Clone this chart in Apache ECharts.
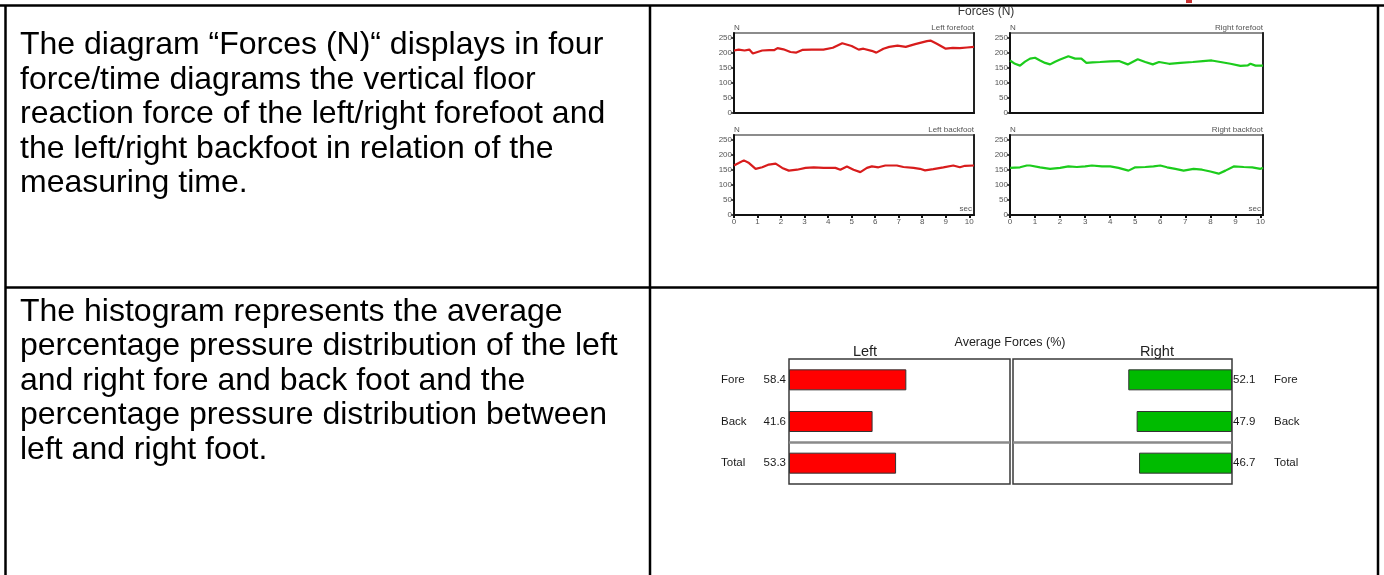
<!DOCTYPE html>
<html>
<head>
<meta charset="utf-8">
<script src="https://cdn.jsdelivr.net/npm/echarts@6/dist/echarts.min.js"></script>
<style>
  html, body { margin: 0; padding: 0; background: #ffffff; }
  #page { width: 1384px; height: 575px; }
</style>
</head>
<body>
<div id="page"></div>
<script>
// ---- Forces (N): four force/time traces, time in seconds, force in newtons ----
const timeLeftFore  = [0, 0.2, 0.45, 0.65, 0.8, 1.0, 1.2, 1.5, 1.7, 1.85, 2.1, 2.4, 2.65, 2.9, 3.3, 3.8, 4.2, 4.6, 5.0, 5.3, 5.5, 5.85, 6.05, 6.35, 6.6, 6.95, 7.3, 7.7, 8.2, 8.35, 8.6, 9.0, 9.3, 9.6, 9.9, 10.2];
const forceLeftFore = [207, 210, 207, 210, 197, 202, 207, 208, 208, 215, 211, 202, 200, 209, 210, 210, 216, 231, 222, 210, 213, 206, 200, 213, 219, 223, 219, 228, 238, 240, 230, 213, 216, 215, 217, 219];

const timeRightFore  = [0, 0.2, 0.4, 0.6, 0.8, 1.0, 1.2, 1.4, 1.6, 1.8, 2.0, 2.33, 2.6, 2.85, 3.05, 3.3, 3.6, 4.0, 4.35, 4.7, 5.1, 5.4, 5.7, 5.95, 6.35, 6.8, 7.3, 7.7, 8.05, 8.4, 8.8, 9.2, 9.5, 9.6, 9.8, 10.1];
const forceRightFore = [174, 163, 157, 170, 180, 183, 174, 166, 161, 170, 177, 188, 180, 180, 166, 168, 169, 171, 172, 161, 178, 169, 161, 169, 163, 166, 169, 172, 174, 169, 163, 156, 158, 163, 157, 157];

const timeLeftBack  = [0, 0.2, 0.42, 0.64, 0.92, 1.2, 1.48, 1.77, 2.05, 2.33, 2.68, 3.04, 3.39, 3.81, 4.31, 4.52, 4.8, 5.08, 5.37, 5.65, 5.86, 6.14, 6.43, 6.92, 7.2, 7.63, 7.9, 8.12, 8.47, 8.9, 9.32, 9.6, 9.82, 10.2];
const forceLeftBack = [164, 172, 181, 172, 153, 158, 167, 170, 156, 147, 150, 156, 158, 156, 156, 150, 161, 150, 142, 156, 161, 158, 164, 164, 159, 156, 153, 148, 152, 158, 164, 158, 163, 164];

const timeRightBack  = [0, 0.4, 0.67, 0.8, 1.2, 1.6, 2.0, 2.33, 2.67, 3.0, 3.27, 3.67, 4.0, 4.33, 4.73, 5.0, 5.4, 5.73, 6.0, 6.27, 6.6, 6.93, 7.33, 7.67, 8.0, 8.33, 8.6, 8.93, 9.33, 9.67, 10.0, 10.1];
const forceRightBack = [156, 158, 164, 164, 158, 153, 156, 161, 159, 161, 164, 161, 161, 156, 147, 158, 159, 161, 164, 158, 153, 147, 153, 150, 144, 137, 147, 161, 159, 158, 153, 156];

const forceTicks = [0, 50, 100, 150, 200, 250];
const timeTicks  = [0, 1, 2, 3, 4, 5, 6, 7, 8, 9, 10];

// ---- Average Forces (%) ----
const footParts    = ['Fore', 'Back', 'Total'];
const leftPercent  = [58.4, 41.6, 53.3];
const rightPercent = [52.1, 47.9, 46.7];

// ---- description texts of the table's left column ----
const forcesText = [
  'The diagram \u201CForces (N)\u201C displays in four',
  'force/time diagrams the vertical floor',
  'reaction force of the left/right forefoot and',
  'the left/right backfoot in relation of the',
  'measuring time.'
];
const histogramText = [
  'The histogram represents the average',
  'percentage pressure distribution of the left',
  'and right fore and back foot and the',
  'percentage pressure distribution between',
  'left and right foot.'
];

const RED = '#d81c1c';
const GREEN = '#1ccc1c';
const SMALL_FONT = 'Liberation Sans, Arial, sans-serif';

const panels = [
  { name: 'Left forefoot',  t: timeLeftFore,  f: forceLeftFore,  color: RED,   left: 734,  top: 33,  width: 240, xMax: 10.2, bottom: false },
  { name: 'Right forefoot', t: timeRightFore, f: forceRightFore, color: GREEN, left: 1010, top: 33,  width: 253, xMax: 10.1, bottom: false },
  { name: 'Left backfoot',  t: timeLeftBack,  f: forceLeftBack,  color: RED,   left: 734,  top: 135, width: 240, xMax: 10.2, bottom: true },
  { name: 'Right backfoot', t: timeRightBack, f: forceRightBack, color: GREEN, left: 1010, top: 135, width: 253, xMax: 10.1, bottom: true }
];

const grids = [], xAxes = [], yAxes = [], series = [];

panels.forEach((p, i) => {
  grids.push({
    left: p.left, top: p.top, width: p.width, height: 80,
    show: true, borderColor: '#8c8c8c', borderWidth: 2, containLabel: false
  });
  xAxes.push({
    type: 'value', gridIndex: i, min: 0, max: p.xMax,
    axisLine: { show: true, onZero: false, lineStyle: { color: '#111', width: 2 } },
    axisTick: { show: p.bottom, length: 3, customValues: timeTicks, lineStyle: { color: '#111', width: 2 } },
    axisLabel: { show: p.bottom, customValues: timeTicks, margin: 3, fontSize: 8, color: '#555', fontFamily: SMALL_FONT },
    splitLine: { show: false },
    name: p.bottom ? 'sec' : '',
    nameLocation: 'end', nameGap: -2,
    nameTextStyle: { align: 'right', verticalAlign: 'bottom', fontSize: 8, color: '#555', fontFamily: SMALL_FONT, padding: [0, 0, 2, 0] }
  });
  yAxes.push({
    type: 'value', gridIndex: i, min: 0, max: 265,
    axisLine: { show: true, lineStyle: { color: '#111', width: 2 } },
    axisTick: { show: true, length: 3, customValues: forceTicks, lineStyle: { color: '#111', width: 1.5 } },
    axisLabel: { customValues: forceTicks, margin: 2, fontSize: 8, color: '#555', fontFamily: SMALL_FONT },
    splitLine: { show: false },
    name: 'N', nameLocation: 'end', nameGap: 1,
    nameTextStyle: { align: 'left', fontSize: 8, color: '#555', fontFamily: SMALL_FONT }
  });
  yAxes.push({
    type: 'value', gridIndex: i, min: 0, max: 265, position: 'right',
    axisLine: { show: true, lineStyle: { color: '#222', width: 2 } },
    axisTick: { show: false }, axisLabel: { show: false }, splitLine: { show: false },
    name: p.name, nameLocation: 'end', nameGap: 1,
    nameTextStyle: { align: 'right', fontSize: 8, color: '#555', fontFamily: SMALL_FONT }
  });
  series.push({
    type: 'line', xAxisIndex: i, yAxisIndex: i * 2,
    data: p.t.map((t, k) => [t, p.f[k]]),
    showSymbol: false, silent: true,
    lineStyle: { color: p.color, width: 2.2 }
  });
});

// bar panels: left grows rightwards from the left edge, right grows leftwards from the right edge
const barLabelStyle = { fontSize: 11.5, color: '#1a1a1a', fontFamily: SMALL_FONT };
grids.push({ left: 789, top: 359, width: 221, height: 125, show: true, borderColor: '#3a3a3a', borderWidth: 1.5 });
grids.push({ left: 1013, top: 359, width: 219, height: 125, show: true, borderColor: '#3a3a3a', borderWidth: 1.5 });
xAxes.push({ type: 'value', gridIndex: 4, min: 0, max: 110, show: false });
xAxes.push({ type: 'value', gridIndex: 5, min: 0, max: 110, inverse: true, show: false });
// band boundaries: top edge, Fore|Back, Back|Total, bottom edge -> only Back|Total is drawn
const splitBeforeTotal = {
  show: true, interval: 0,
  lineStyle: { color: ['rgba(0,0,0,0)', 'rgba(0,0,0,0)', '#8a8a8a', 'rgba(0,0,0,0)'], width: 2.5 }
};
yAxes.push({
  type: 'category', gridIndex: 4, data: footParts, inverse: true,
  axisLine: { show: false }, axisTick: { show: false },
  axisLabel: Object.assign({ align: 'left', margin: 68 }, barLabelStyle),
  splitLine: splitBeforeTotal
});
yAxes.push({
  type: 'category', gridIndex: 5, data: footParts, inverse: true, position: 'right',
  axisLine: { show: false }, axisTick: { show: false },
  axisLabel: Object.assign({ align: 'left', margin: 42 }, barLabelStyle),
  splitLine: splitBeforeTotal
});
series.push({
  type: 'bar', xAxisIndex: 4, yAxisIndex: 8, data: leftPercent, barWidth: 21,
  itemStyle: { color: '#ff0000', borderColor: '#333', borderWidth: 1 },
  label: Object.assign({ show: true, position: 'left', distance: 3, formatter: '{c}' }, barLabelStyle)
});
series.push({
  type: 'bar', xAxisIndex: 5, yAxisIndex: 9, data: rightPercent, barWidth: 21,
  itemStyle: { color: '#00bb00', borderColor: '#333', borderWidth: 1 },
  label: Object.assign({ show: true, position: 'right', distance: 1, formatter: '{c}' }, barLabelStyle)
});

// table frame and the text in its left column
const BODY_FONT = '32px "Liberation Sans", Arial, sans-serif';
const frameLine = (x1, y1, x2, y2, w) => ({
  type: 'line', shape: { x1, y1, x2, y2 }, style: { stroke: '#000', lineWidth: w || 2.5 }, silent: true
});
const graphics = [
  frameLine(0, 5.5, 1384, 5.5),
  frameLine(5.5, 5, 5.5, 575),
  frameLine(650, 5, 650, 575),
  frameLine(1378, 5, 1378, 575),
  frameLine(5, 287.5, 1378, 287.5),
  { type: 'rect', shape: { x: 1186, y: 0, width: 6, height: 3 }, style: { fill: '#c83030' }, silent: true },
  { type: 'text', x: 20, y: 28, silent: true,
    style: { text: forcesText.join('\n'), font: BODY_FONT, fill: '#000', lineHeight: 34.5, textVerticalAlign: 'top' } },
  { type: 'text', x: 20, y: 294.5, silent: true,
    style: { text: histogramText.join('\n'), font: BODY_FONT, fill: '#000', lineHeight: 34.5, textVerticalAlign: 'top' } },
  { type: 'text', x: 986, y: 12, silent: true,
    style: { text: 'Forces (N)', font: '12px "Liberation Sans", Arial, sans-serif', fill: '#333', textAlign: 'center', textVerticalAlign: 'middle' } },
  { type: 'text', x: 1010, y: 343, silent: true,
    style: { text: 'Average Forces (%)', font: '12.5px "Liberation Sans", Arial, sans-serif', fill: '#222', textAlign: 'center', textVerticalAlign: 'middle' } },
  { type: 'text', x: 865, y: 352, silent: true,
    style: { text: 'Left', font: '14.5px "Liberation Sans", Arial, sans-serif', fill: '#222', textAlign: 'center', textVerticalAlign: 'middle' } },
  { type: 'text', x: 1157, y: 352, silent: true,
    style: { text: 'Right', font: '14.5px "Liberation Sans", Arial, sans-serif', fill: '#222', textAlign: 'center', textVerticalAlign: 'middle' } }
];

const chart = echarts.init(document.getElementById('page'), null, { renderer: 'canvas' });
chart.setOption({
  animation: false,
  backgroundColor: '#ffffff',
  grid: grids,
  xAxis: xAxes,
  yAxis: yAxes,
  series: series,
  graphic: { elements: graphics }
});
</script>
</body>
</html>
